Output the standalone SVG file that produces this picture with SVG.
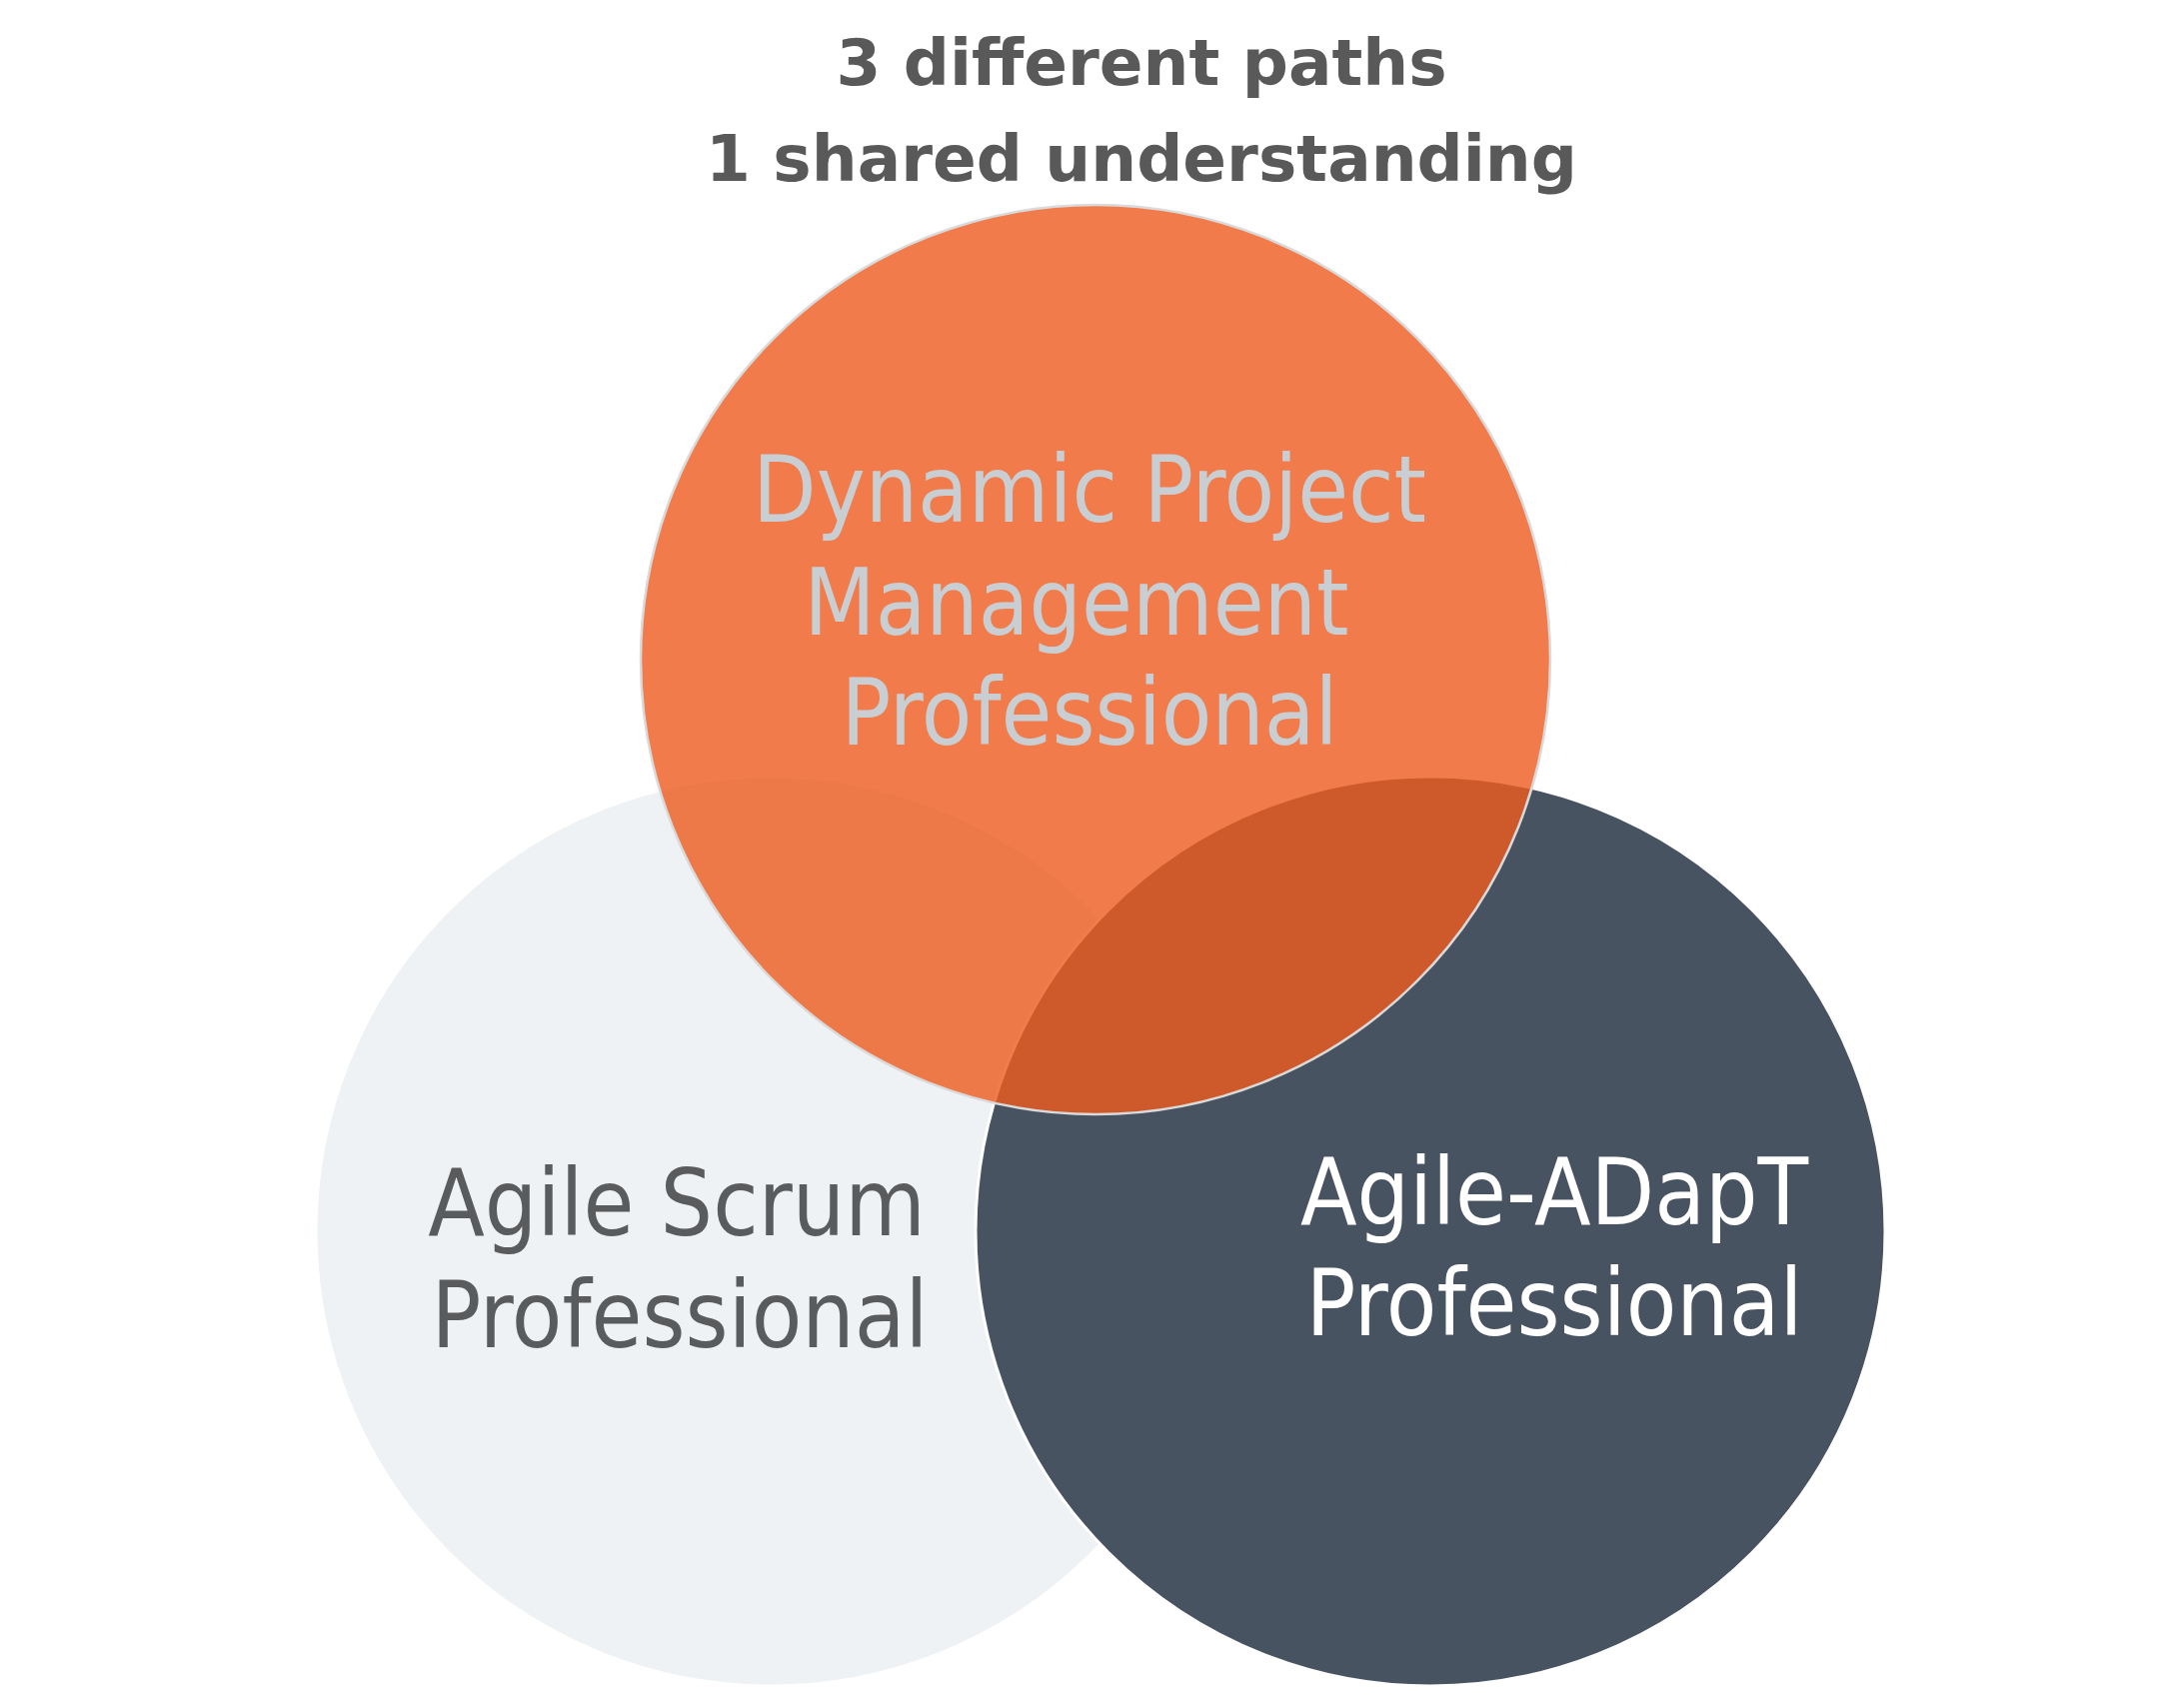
<svg xmlns="http://www.w3.org/2000/svg" width="2183" height="1709" viewBox="0 0 2183 1709">
<style>
.lbl{font-family:"DejaVu Sans Condensed","DejaVu Sans",sans-serif;font-stretch:condensed;font-size:92px;text-anchor:middle;white-space:pre}
.title{font-family:"DejaVu Sans","Liberation Sans",sans-serif;font-weight:bold;font-size:64.5px;fill:#595959;text-anchor:middle}
</style>
<rect width="2183" height="1709" fill="#ffffff"/>
<g id="title">
<text class="title" x="1142" y="85">3 different paths</text>
<text class="title" x="1142" y="181">1 shared understanding</text>
</g>
<g id="agile-scrum">
<circle cx="771" cy="1232" r="455" fill="#EFF2F5" stroke="#ffffff" stroke-width="3"/>
<text class="lbl" x="677" y="1236" fill="#5A5B5D">Agile Scrum</text>
<text class="lbl" x="680" y="1348" fill="#5A5B5D">Professional</text>
</g>
<g id="agile-adapt">
<circle cx="1431" cy="1232" r="455" fill="#44505F" fill-opacity="0.98" stroke="#ffffff" stroke-width="3"/>
<text class="lbl" x="1555" y="1225" fill="#ffffff">Agile-ADapT</text>
<text class="lbl" x="1555" y="1336" fill="#ffffff">Professional</text>
</g>
<g id="dpm">
<circle cx="1096" cy="660" r="455" fill="#EE5D20" fill-opacity="0.81" stroke="#DADADA" stroke-width="2.5"/>
<text class="lbl" x="1090" y="522" fill="#C9CED3">Dynamic Project</text>
<text class="lbl" x="1090" y="635" fill="#C9CED3">Management </text>
<text class="lbl" x="1090" y="745" fill="#C9CED3">Professional</text>
</g>
</svg>
